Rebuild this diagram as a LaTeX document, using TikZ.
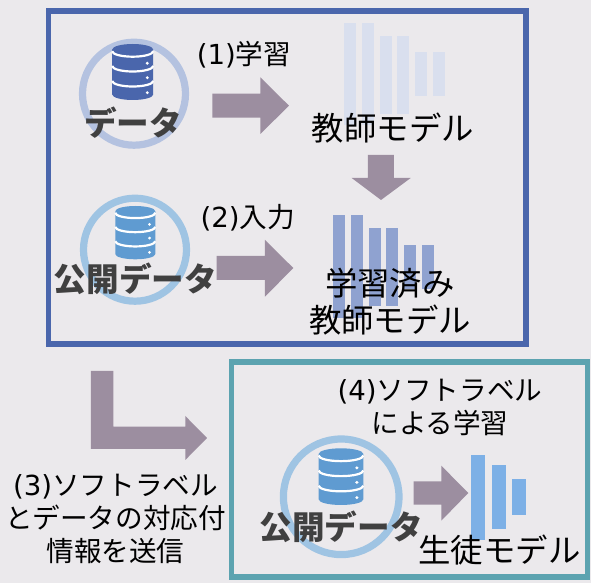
\documentclass[tikz,border=0pt]{standalone}
\usepackage{xcolor}
\usepackage{fontspec}
\setmainfont{Noto Sans CJK JP}
\newfontfamily\latinfont{DejaVu Sans}
\usepackage{tikz}
\definecolor{paper}{HTML}{EBE9EC}
\definecolor{navy}{HTML}{4A66AC}
\definecolor{teal}{HTML}{5CA3B0}
\definecolor{sky}{HTML}{5F9BD1}
\definecolor{ringnavy}{HTML}{B4C2E0}
\definecolor{ringsky}{HTML}{9FC4E3}
\definecolor{blockc}{HTML}{9C8EA0}
\definecolor{barlight}{HTML}{D9DFEE}
\definecolor{barmid}{HTML}{8FA2D0}
\definecolor{barsky}{HTML}{7DB0E6}
\definecolor{ink}{HTML}{404040}
\tikzset{
  frame/.style={line width=2.8pt},
  ring/.style={line width=3.6pt},
  block/.style={fill=blockc},
  lab/.style={text=black, align=center, font=\fontsize{16.2}{18.5}\selectfont},
  labm/.style={text=black, align=center, font=\fontsize{13.8}{16.5}\selectfont},
  labb/.style={text=ink, font=\fontsize{16.3}{18}\selectfont\bfseries}
}
% bracket number in the wider latin face
\newcommand{\stepno}[1]{{\latinfont (#1)}}
% database icon: centre x, top y, width, height, colour
\newcommand{\dbicon}[5]{
  \begin{scope}[shift={(#1,#2)}, xscale=#3/41, yscale=#4/56]
    \fill[#5] (-20.5,5.5) arc[start angle=180, end angle=360, x radius=20.5, y radius=5.5]
      -- (20.5,50.5) arc[start angle=0, end angle=180, x radius=20.5, y radius=5.5] -- cycle;
    \foreach \y in {7.2,22,37}
      \draw[white, line width=1.1pt] (-20.5,\y) arc[start angle=180, end angle=360, x radius=20.5, y radius=-5.5];
    \foreach \y in {19.3,33.7,48.7}
      \fill[white] (14.6,\y) circle[radius=1.6];
  \end{scope}
}

\begin{document}
\begin{tikzpicture}[x=0.5pt,y=-0.5pt]
  \fill[paper] (0,0) rectangle (591,583);
  \useasboundingbox (0,0) rectangle (591,583);

  \draw[frame, navy] (48.5,11) rectangle (526,344);
  \draw[frame, teal] (231.5,362) rectangle (587.6,577);

  % top: data
  \draw[ring, ringnavy] (134,93.7) circle[radius=51.5];
  \dbicon{132.7}{44}{41}{56}{navy}
  \fill[block] (212.3,93.7) -- (260.3,93.7) -- (260.3,77.3) -- (289,105.7)
    -- (260.3,134) -- (260.3,117.7) -- (212.3,117.7) -- cycle;
  \foreach \x/\t/\b in {344/22.7/125.4,362/22.7/125.4,380/36/114,397/36/114,415/52/96,433/52/96}
    \fill[barlight] (\x,\t) rectangle ++(12,\b-\t);
  \fill[block] (368,155) -- (394,155) -- (394,178) -- (410.7,178) -- (381,200)
    -- (351.7,178) -- (368,178) -- cycle;

  % middle: public data
  \draw[ring, ringsky] (135,249.7) circle[radius=51.5];
  \dbicon{135.3}{206}{40}{53.3}{sky}
  \fill[block] (216.7,256) -- (265,256) -- (265,240) -- (293.3,268)
    -- (265,296.7) -- (265,280) -- (216.7,280) -- cycle;
  \foreach \x/\t/\b in {333/215/317.7,351/215/317.7,369/228/306,386/228/306,404/245/289,422/245/289}
    \fill[barmid] (\x,\t) rectangle ++(12,\b-\t);

  % to the student
  \fill[block] (91,371) -- (113.3,371) -- (113.3,426.7) -- (185.3,426.7) -- (185.3,416)
    -- (207,438) -- (185.3,460) -- (185.3,449) -- (91,449) -- cycle;

  % bottom: student
  \draw[ring, ringsky] (341.2,496.8) circle[radius=57.8];
  \dbicon{341}{448.3}{44.6}{56.7}{sky}
  \fill[block] (413.7,481.3) -- (441.3,481.3) -- (441.3,465.7) -- (468.3,493)
    -- (441.3,520.7) -- (441.3,504.7) -- (413.7,504.7) -- cycle;
  \foreach \x/\t/\b in {471/455/540,492/465/529,512/479/515}
    \fill[barsky] (\x,\t) rectangle ++(14,\b-\t);

  \node[labb] (data) at (133,123) {データ};
  \node[labb] (pubdata) at (135.5,279) {公開データ};
  \node[labb] (pubdatab) at (341.3,526.7) {公開データ};
  \node[labm] (learn) at (244,55) {\stepno{1}学習};
  \node[labm] (input) at (247.8,218) {\stepno{2}入力};
  \node[lab] (teacher) at (393,128) {教師モデル};
  \node[lab] (trained) at (390,302) {学習済み\\教師モデル};
  \node[lab] (student) at (499.5,550) {生徒モデル};
  \node[labm] (send) at (115.5,519) {\stepno{3}ソフトラベル\\とデータの対応付\\情報を送信};
  \node[labm] (soft) at (440,407) {\stepno{4}ソフトラベル\\による学習};
\end{tikzpicture}
\end{document}
